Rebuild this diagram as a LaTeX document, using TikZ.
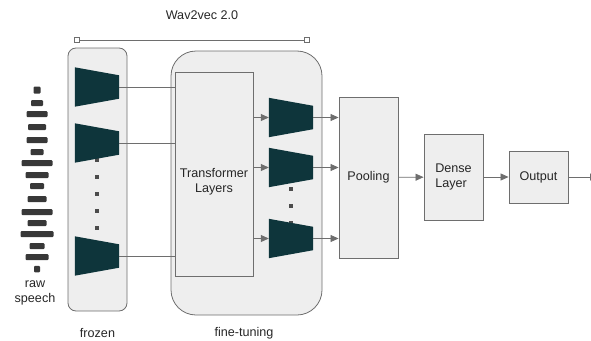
\documentclass[tikz,border=0pt]{standalone}
\usepackage{fontspec}
\setmainfont{Liberation Sans}
\usetikzlibrary{arrows.meta}

\definecolor{boxgray}{HTML}{EEEEEE}
\definecolor{linegray}{HTML}{6E6E6E}
\definecolor{encteal}{HTML}{0E353B}
\definecolor{bargray}{HTML}{383838}

% trapezoid block: long side left, short side right
\newcommand{\encoder}[2]{%
  \node[enc] (#1) at (#2) {};
  \fill[encteal] (#1.north west) -- ([yshift=-8pt]#1.north east)
    -- ([yshift=8pt]#1.south east) -- (#1.south west) -- cycle;}

\begin{document}
\begin{tikzpicture}[x=1pt, y=-1pt,
  every node/.style={font=\fontsize{12.6}{15}\selectfont, text=black!85},
  region/.style={draw=linegray, fill=boxgray, line width=0.8pt, inner sep=0pt},
  block/.style={draw=linegray, fill=boxgray, line width=0.9pt, inner sep=0pt},
  enc/.style={minimum width=44pt, minimum height=39pt, inner sep=0pt},
  dot/.style={fill=black!70, minimum size=3.5pt, inner sep=0pt},
  bar/.style={fill=bargray, rounded corners=1pt, inner sep=0pt},
  tick/.style={draw=linegray, fill=white, minimum size=5pt, inner sep=0pt, line width=0.7pt},
  conn/.style={draw=linegray, line width=0.8pt},
  arr/.style={conn, -{Triangle[length=8pt, width=7pt]}}]

    \useasboundingbox (0,0) rectangle (591,340);

    \node (title) at (202,15) {Wav2vec 2.0};
    \node[tick] (wl) at (77,40) {};
    \node[tick] (wr) at (307,40) {};
    \draw[conn, line width=0.7pt] (wl) -- (wr);

    % raw speech waveform
    \foreach \y/\w/\h [count=\i] in {90/7/7, 103/12/6, 114/21/6, 127/18/6,
        140/21/6, 152/13/6, 163/31/6, 175/23/6, 186/14/6, 199/19/6,
        212/31/6, 223/19/6, 234/33/6, 246/15/6, 257/23/6, 269/6/6.5}
      \node[bar, minimum width=\w pt, minimum height=\h pt] (bar\i) at (37,\y) {};
    \node[align=center] (raw) at (35,293) {raw\\speech};

    \node[region, rounded corners=8pt, minimum width=59pt, minimum height=263pt] (frozen) at (97.5,179.5) {};
    \node[region, rounded corners=25pt, minimum width=151pt, minimum height=264pt] (fine) at (246.5,183) {};
    \node (frozenlbl) at (97.5,333) {frozen};
    \node (finelbl) at (244,333) {fine-tuning};

    \node[block, minimum width=78pt, minimum height=204pt] (tl) at (214,174) {};
    \node[align=center] (tltext) at (214,182) {Transformer\\Layers};

    \foreach \y [count=\i] in {160,177,194,211,228}
      \node[dot] (fd\i) at (97,\y) {};
    \foreach \y [count=\i] in {189,206,223}
      \node[dot] (ed\i) at (291,\y) {};

    \encoder{f1}{97,87}
    \encoder{f2}{97,143}
    \encoder{f3}{97,256}
    \encoder{e1}{291,117.5}
    \encoder{e2}{291,167.5}
    \encoder{e3}{291,238.5}

    \node[block, minimum width=59pt, minimum height=161pt] (pool) at (368.5,177.5) {Pooling};
    \node[block, minimum width=59pt, minimum height=86pt, align=left] (dense) at (453.5,177) {Dense\\Layer};
    \node[block, minimum width=59pt, minimum height=52pt] (out) at (538.5,177) {Output};
    \coordinate (end) at (598,177);

    \draw[conn] (f1.east) -- (f1.east -| tl.west);
    \draw[conn] (f2.east) -- (f2.east -| tl.west);
    \draw[conn] (f3.east) -- (f3.east -| tl.west);

    \draw[arr] (e1.west -| tl.east) -- (e1.west);
    \draw[arr] (e2.west -| tl.east) -- (e2.west);
    \draw[arr] (e3.west -| tl.east) -- (e3.west);
    \draw[arr] (e1.east) -- (e1.east -| pool.west);
    \draw[arr] (e2.east) -- (e2.east -| pool.west);
    \draw[arr] (e3.east) -- (e3.east -| pool.west);

    \draw[arr] (pool) -- (dense);
    \draw[arr] (dense) -- (out);
    \draw[arr] (out) -- (end);

\end{tikzpicture}
\end{document}
